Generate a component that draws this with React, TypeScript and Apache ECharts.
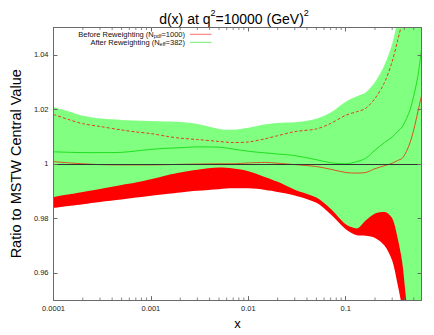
import React, { useEffect, useRef } from 'react';
import * as echarts from 'echarts';

// x grid (momentum fraction)
const xValues = [0.0001, 0.00015, 0.0002, 0.0003, 0.0005, 0.0007, 0.001, 0.0015, 0.002, 0.003, 0.005, 0.007, 0.01, 0.015, 0.02, 0.03, 0.05, 0.07, 0.1, 0.13, 0.16, 0.2, 0.25, 0.3, 0.34, 0.38, 0.42, 0.46, 0.5, 0.55, 0.6];

// After reweighting (green band + central line)
const afterUpper = [1.0208, 1.019, 1.0176, 1.0166, 1.0161, 1.0159, 1.0157, 1.0155, 1.0153, 1.0146, 1.0128, 1.0125, 1.0132, 1.0145, 1.015, 1.0152, 1.0165, 1.0188, 1.0228, 1.0248, 1.0262, 1.03, 1.0362, 1.044, 1.053, 1.066, 1.08, 1.095, 1.11, 1.13, 1.15];
const afterLower = [0.9878, 0.9889, 0.9897, 0.9908, 0.9922, 0.9931, 0.9943, 0.9959, 0.9968, 0.9978, 0.9986, 0.9983, 0.9973, 0.9951, 0.9934, 0.9905, 0.9876, 0.9835, 0.9778, 0.9763, 0.9792, 0.9818, 0.9823, 0.98, 0.973, 0.964, 0.9495, 0.938, 0.925, 0.91, 0.9];
const afterCentral = [1.0044, 1.0042, 1.0041, 1.0041, 1.0042, 1.0047, 1.0053, 1.0057, 1.0059, 1.0062, 1.0061, 1.0054, 1.0046, 1.004, 1.0036, 1.003, 1.0015, 1.0004, 1.0, 1.0008, 1.002, 1.005, 1.0078, 1.0098, 1.0118, 1.0135, 1.0165, 1.02, 1.025, 1.032, 1.042];

// Before reweighting (red band + central line)
const beforeUpper = [1.0181, 1.016, 1.0147, 1.0137, 1.0124, 1.0117, 1.0111, 1.01, 1.0094, 1.0089, 1.0082, 1.0078, 1.008, 1.0092, 1.0103, 1.0118, 1.0128, 1.0148, 1.0178, 1.0191, 1.0203, 1.024, 1.0298, 1.0375, 1.045, 1.052, 1.06, 1.068, 1.078, 1.09, 1.1];
const beforeLower = [0.9838, 0.9846, 0.9852, 0.986, 0.9869, 0.9876, 0.9883, 0.989, 0.9895, 0.9901, 0.9907, 0.991, 0.991, 0.9904, 0.9897, 0.9884, 0.9857, 0.9815, 0.976, 0.9738, 0.9736, 0.9728, 0.97, 0.9645, 0.956, 0.947, 0.935, 0.92, 0.91, 0.9, 0.89];
const beforeCentral = [1.0008, 1.0003, 1.0, 0.9997, 0.9996, 0.9996, 0.9996, 0.9997, 0.9998, 0.9999, 1.0, 1.0, 1.0003, 1.0005, 1.0002, 0.9997, 0.999, 0.998, 0.9968, 0.9966, 0.9968, 0.9982, 0.9993, 1.0002, 1.0012, 1.002, 1.0045, 1.008, 1.0125, 1.019, 1.025];

// Axis ticks
const xMajorTicks = [0.0001, 0.001, 0.01, 0.1];
const xMajorLabels = ['0.0001', '0.001', '0.01', '0.1'];
const xMinorTicks = [0.0002, 0.0003, 0.0004, 0.0005, 0.0006, 0.0007, 0.0008, 0.0009, 0.002, 0.003, 0.004, 0.005, 0.006, 0.007, 0.008, 0.009, 0.02, 0.03, 0.04, 0.05, 0.06, 0.07, 0.08, 0.09, 0.2, 0.3, 0.4, 0.5];
const yTickValues = [0.96, 0.98, 1, 1.02, 1.04];
const yTickLabels = ['0.96', '0.98', '1', '1.02', '1.04'];

const FONT = '"Liberation Sans", Arial, Helvetica, sans-serif';
const AXIS_COLOR = '#6a6a6a';

const pairs = (ys: number[]) => xValues.map((x, i) => [x, ys[i]]);

export default function App() {
  const ref = useRef<HTMLDivElement>(null);

  useEffect(() => {
    if (!ref.current) return;
    const chart = echarts.init(ref.current, undefined, { renderer: 'svg' });

    const xFormatter = (v: number) => {
      const i = xMajorTicks.findIndex((t) => Math.abs(Math.log10(v) - Math.log10(t)) < 1e-6);
      return i >= 0 ? xMajorLabels[i] : '';
    };
    const yFormatter = (v: number) => {
      const i = yTickValues.findIndex((t) => Math.abs(v - t) < 1e-6);
      return i >= 0 ? yTickLabels[i] : '';
    };

    const axisLine = { show: true, lineStyle: { color: AXIS_COLOR, width: 1 } };
    const axisTick = { show: true, inside: true, length: 4, lineStyle: { color: AXIS_COLOR, width: 1 } };
    const labelStyle = { fontFamily: FONT, fontSize: 7.5, color: '#222' };

    const areaSeries = (ys: number[], color: string, z: number) => ({
      type: 'line',
      data: pairs(ys),
      symbol: 'none',
      smooth: 0.3,
      silent: true,
      z,
      lineStyle: { opacity: 0, width: 0 },
      areaStyle: { color, opacity: 1, origin: 'start' },
    });
    const lineSeries = (ys: number[], color: string, type: any, z: number) => ({
      type: 'line',
      data: pairs(ys),
      symbol: 'none',
      smooth: 0.3,
      silent: true,
      z,
      lineStyle: { color, width: 1, type },
    });
    const minorTickSeries = (y: number, offset: number) => ({
      type: 'scatter',
      data: xMinorTicks.map((x) => [x, y]),
      symbol: 'rect',
      symbolSize: [1, 2.5],
      symbolOffset: [0, offset],
      itemStyle: { color: AXIS_COLOR },
      silent: true,
      clip: false,
      z: 20,
    });

    chart.setOption({
      animation: false,
      backgroundColor: '#ffffff',
      grid: { left: 47, right: 12.5, top: 27.5, bottom: 32.5, containLabel: false },
      xAxis: [
        {
          type: 'log',
          logBase: 10,
          min: 0.0001,
          max: 0.6,
          position: 'bottom',
          z: 10,
          axisLine,
          axisTick,
          splitLine: { show: false },
          minorTick: { show: false },
          axisLabel: { ...labelStyle, formatter: xFormatter, margin: 4, showMaxLabel: false },
          name: 'x',
          nameLocation: 'middle',
          nameGap: 13,
          nameTextStyle: { fontFamily: FONT, fontSize: 13, color: '#000' },
        },
        {
          type: 'log',
          logBase: 10,
          min: 0.0001,
          max: 0.6,
          position: 'top',
          z: 10,
          axisLine,
          axisTick,
          splitLine: { show: false },
          axisLabel: { show: false },
        },
      ],
      yAxis: [
        {
          type: 'value',
          min: 0.95,
          max: 1.05,
          splitNumber: 5,
          position: 'left',
          z: 10,
          axisLine,
          axisTick,
          splitLine: { show: false },
          axisLabel: { ...labelStyle, formatter: yFormatter, margin: 5, showMinLabel: false, showMaxLabel: false },
          name: 'Ratio to MSTW Central Value',
          nameLocation: 'middle',
          nameGap: 28,
          nameTextStyle: { fontFamily: FONT, fontSize: 14.5, color: '#000' },
        },
        {
          type: 'value',
          min: 0.95,
          max: 1.05,
          splitNumber: 5,
          position: 'right',
          z: 10,
          axisLine,
          axisTick,
          splitLine: { show: false },
          axisLabel: { show: false },
        },
      ],
      series: [
        areaSeries(afterUpper, '#80ff80', 1),
        areaSeries(afterLower, '#ff0000', 1),
        areaSeries(beforeLower, '#ffffff', 1),
        lineSeries(beforeUpper, '#e0401c', [3, 2], 3),
        {
          ...lineSeries(afterCentral, '#1fe01f', 'solid', 3),
          markLine: {
            silent: true,
            symbol: 'none',
            label: { show: false },
            lineStyle: { color: '#333333', width: 1, type: 'solid' },
            data: [{ yAxis: 1 }],
          },
        },
        lineSeries(beforeCentral, '#d8541f', 'solid', 3),
        minorTickSeries(0.95, -1.25),
        minorTickSeries(1.05, 1.25),
      ],
      graphic: [
        {
          type: 'text',
          x: 234,
          y: 19,
          silent: true,
          style: {
            text: '{a|d(x) at q}{s|2}{a|=10000 (GeV)}{s|2}',
            align: 'center',
            verticalAlign: 'middle',
            fill: '#000',
            rich: {
              a: { fontFamily: FONT, fontSize: 14, lineHeight: 22, fill: '#000' },
              s: { fontFamily: FONT, fontSize: 9, lineHeight: 9, verticalAlign: 'top', fill: '#000' },
            },
          },
        },
        {
          type: 'text',
          x: 185,
          y: 34.3,
          silent: true,
          style: {
            text: '{a|Before Reweighting (N}{s|pdf}{a|=1000)}',
            align: 'right',
            verticalAlign: 'middle',
            rich: {
              a: { fontFamily: FONT, fontSize: 7.5, lineHeight: 10, fill: '#111' },
              s: { fontFamily: FONT, fontSize: 5.5, lineHeight: 6, verticalAlign: 'bottom', fill: '#111' },
            },
          },
        },
        {
          type: 'text',
          x: 185,
          y: 42.3,
          silent: true,
          style: {
            text: '{a|After Reweighting (N}{s|eff}{a|=382)}',
            align: 'right',
            verticalAlign: 'middle',
            rich: {
              a: { fontFamily: FONT, fontSize: 7.5, lineHeight: 10, fill: '#111' },
              s: { fontFamily: FONT, fontSize: 5.5, lineHeight: 6, verticalAlign: 'bottom', fill: '#111' },
            },
          },
        },
        {
          type: 'line',
          silent: true,
          shape: { x1: 190, y1: 34.3, x2: 211.5, y2: 34.3 },
          style: { stroke: '#ff7070', lineWidth: 1 },
        },
        {
          type: 'line',
          silent: true,
          shape: { x1: 190, y1: 42.3, x2: 211.5, y2: 42.3 },
          style: { stroke: '#70f070', lineWidth: 1 },
        },
      ],
    });

    return () => chart.dispose();
  }, []);

  return (
    <div
      ref={ref}
      style={{ position: 'fixed', left: 0, top: 0, width: 434, height: 335, background: '#fff' }}
    />
  );
}
